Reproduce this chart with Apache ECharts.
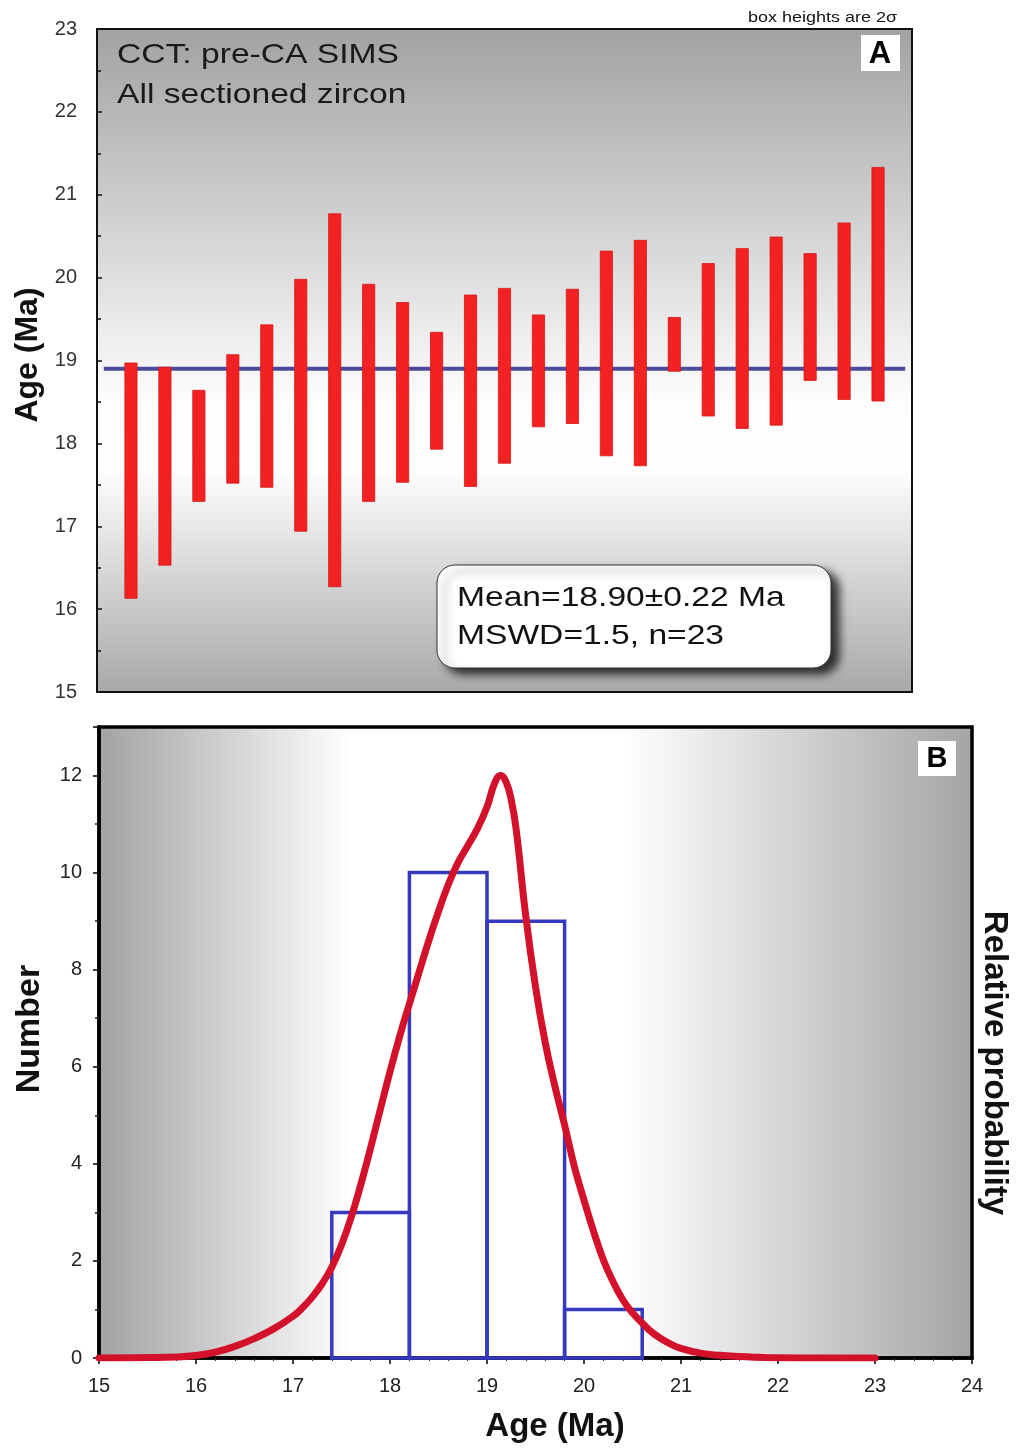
<!DOCTYPE html>
<html><head><meta charset="utf-8">
<script src="https://cdn.jsdelivr.net/npm/echarts@6/dist/echarts.min.js"></script>
<style>html,body{margin:0;padding:0;background:#fff}#c{width:1017px;height:1448px}</style>
</head><body><div id="c"></div><script>
// ---- Panel A: individual zircon ages (box heights are 2 sigma) ----
const grainIndex = [1,2,3,4,5,6,7,8,9,10,11,12,13,14,15,16,17,18,19,20,21,22,23];
const ageLow  = [16.13,16.53,17.30,17.52,17.47,16.94,16.27,17.30,17.53,17.93,17.48,17.76,18.20,18.24,17.85,17.73,18.87,18.33,18.18,18.22,18.76,18.53,18.51];
const ageHigh = [18.97,18.92,18.64,19.07,19.43,19.98,20.77,19.92,19.70,19.34,19.79,19.87,19.55,19.86,20.32,20.45,19.52,20.17,20.35,20.49,20.29,20.66,21.33];
const meanAge = 18.90;
const meanSpan = [0.2, 23.8];
const ageTicksA = [15,16,17,18,19,20,21,22,23];

// ---- Panel B: histogram + probability curve ----
const binStart = [17.4, 18.2, 19.0, 19.8];
const binEnd   = [18.2, 19.0, 19.8, 20.6];
const binCount = [3, 10, 9, 1];
const probAge   = [15.0,15.5,15.8,16.0,16.2,16.4,16.6,16.8,17.0,17.1,17.2,17.3,17.4,17.5,17.6,17.7,17.8,17.9,18.0,18.1,18.2,18.3,18.4,18.5,18.6,18.7,18.8,18.9,19.0,19.08,19.14,19.2,19.25,19.3,19.4,19.5,19.6,19.7,19.8,19.9,20.0,20.1,20.2,20.3,20.4,20.5,20.6,20.7,20.8,20.9,21.0,21.2,21.4,21.6,21.8,22.0,22.5,23.0];
const probValue = [0,0.01,0.02,0.05,0.12,0.24,0.4,0.6,0.86,1.04,1.26,1.53,1.87,2.33,2.9,3.58,4.33,5.12,5.9,6.63,7.3,7.95,8.6,9.2,9.75,10.2,10.55,10.9,11.35,11.85,12.0,11.85,11.5,10.9,9.1,7.65,6.5,5.6,4.8,3.95,3.25,2.6,2.02,1.57,1.2,0.93,0.72,0.53,0.39,0.28,0.2,0.1,0.055,0.03,0.015,0.005,0,0];

const FONT = '"Liberation Sans", Arial, sans-serif';
const chart = echarts.init(document.getElementById('c'), null, {renderer: 'canvas'});

const option = {
  backgroundColor: '#ffffff',
  animation: false,
  grid: [
    {left: 97, top: 29, width: 815, height: 663, show: true, borderColor: '#111', borderWidth: 2,
     backgroundColor: {type: 'linear', x: 0, y: 0, x2: 0, y2: 1, colorStops: [
       {offset: 0, color: '#a2a2a2'}, {offset: 0.56, color: '#fdfdfd'},
       {offset: 0.66, color: '#ffffff'}, {offset: 1, color: '#a8a8a8'}]}},
    {left: 99, top: 727, width: 873, height: 631, show: true, borderColor: '#000', borderWidth: 3.5,
     backgroundColor: {type: 'linear', x: 0, y: 0, x2: 1, y2: 0, colorStops: [
       {offset: 0, color: '#a2a2a2'}, {offset: 0.29, color: '#ffffff'},
       {offset: 0.6, color: '#ffffff'}, {offset: 1, color: '#a4a4a4'}]}}
  ],
  xAxis: [
    {gridIndex: 0, type: 'value', min: 0, max: 24, axisLine: {show: false}, axisTick: {show: false},
     axisLabel: {show: false}, splitLine: {show: false}},
    {gridIndex: 1, type: 'value', min: 15, max: 24, interval: 1,
     axisLine: {show: true, onZero: false, lineStyle: {color: '#000', width: 3.5}},
     axisTick: {show: true, inside: false, length: 6, lineStyle: {color: '#000', width: 1.5}},
     minorTick: {show: true, splitNumber: 5, length: 3, lineStyle: {color: '#333', width: 1}},
     axisLabel: {fontSize: 20, color: '#222', margin: 18, fontFamily: FONT},
     splitLine: {show: false}}
  ],
  yAxis: [
    {gridIndex: 0, type: 'value', min: 15, max: 23, interval: 1,
     axisLine: {show: true, lineStyle: {color: '#111', width: 2}},
     axisTick: {show: true, inside: true, length: 5, lineStyle: {color: '#111', width: 1.5}},
     minorTick: {show: true, splitNumber: 2, length: 4, lineStyle: {color: '#111', width: 1.5}},
     axisLabel: {fontSize: 20, color: '#333', margin: 20, fontFamily: FONT,
       formatter: v => ageTicksA.indexOf(v) >= 0 ? String(v) : ''},
     splitLine: {show: false}},
    {gridIndex: 1, type: 'value', min: 0, max: 13, interval: 2,
     axisLine: {show: true, onZero: false, lineStyle: {color: '#000', width: 3.5}},
     axisTick: {show: true, inside: false, length: 6, lineStyle: {color: '#000', width: 1.5}},
     minorTick: {show: true, splitNumber: 2, length: 4, lineStyle: {color: '#222', width: 1.5}},
     axisLabel: {fontSize: 20, color: '#222', margin: 17, fontFamily: FONT, showMaxLabel: false},
     splitLine: {show: false}}
  ],
  series: [
    {type: 'line', xAxisIndex: 0, yAxisIndex: 0, z: 2, symbol: 'none', silent: true,
     data: meanSpan.map(x => [x, meanAge]),
     lineStyle: {color: '#4b4b9d', width: 4}},
    {type: 'custom', xAxisIndex: 0, yAxisIndex: 0, z: 3,
     data: grainIndex.map((g, i) => [g, ageLow[i], ageHigh[i]]),
     encode: {x: 0, y: [1, 2]},
     renderItem: function (params, api) {
       const top = api.coord([api.value(0), api.value(2)]);
       const bot = api.coord([api.value(0), api.value(1)]);
       const w = api.size([0.36, 0])[0];
       return {type: 'rect', shape: {x: top[0] - w / 2, y: top[1], width: w, height: bot[1] - top[1]},
               style: {fill: '#f22222', stroke: '#d81818', lineWidth: 0.8}};
     }},
    {type: 'custom', xAxisIndex: 1, yAxisIndex: 1, z: 3,
     data: binStart.map((s, i) => [s, binEnd[i], binCount[i]]),
     encode: {x: [0, 1], y: 2},
     renderItem: function (params, api) {
       const p0 = api.coord([api.value(0), 0]);
       const p1 = api.coord([api.value(1), api.value(2)]);
       return {type: 'rect', shape: {x: p0[0], y: p1[1], width: p1[0] - p0[0], height: p0[1] - p1[1]},
               style: {fill: null, stroke: '#3539c0', lineWidth: 3.5}};
     }},
    {type: 'line', xAxisIndex: 1, yAxisIndex: 1, z: 4, symbol: 'none', smooth: 0.45, silent: true,
     data: probAge.map((a, i) => [a, probValue[i]]),
     lineStyle: {color: '#d3112b', width: 7, cap: 'round', join: 'round'}}
  ],
  graphic: [
    {type: 'text', left: 748, top: 10, scaleX: 1.2, z: 10,
     style: {text: 'box heights are 2σ', fontSize: 15, fontFamily: FONT, fill: '#111'}},
    {type: 'text', x: 117, y: 55, scaleX: 1.2, z: 10,
     style: {text: 'CCT: pre-CA SIMS', fontSize: 28, fontFamily: FONT, fill: '#1a1a1a', verticalAlign: 'middle'}},
    {type: 'text', x: 117, y: 95, scaleX: 1.2, z: 10,
     style: {text: 'All sectioned zircon', fontSize: 28, fontFamily: FONT, fill: '#1a1a1a', verticalAlign: 'middle'}},
    {type: 'rect', z: 10, shape: {x: 861, y: 35, width: 39, height: 36}, style: {fill: '#ffffff'}},
    {type: 'text', x: 880, y: 54, z: 11,
     style: {text: 'A', fontSize: 31, fontWeight: 'bold', fontFamily: FONT, fill: '#000', align: 'center', verticalAlign: 'middle'}},
    {type: 'rect', z: 10, shape: {x: 437, y: 565, width: 394, height: 103, r: 18},
     style: {fill: '#ffffff', stroke: '#333', lineWidth: 1, shadowBlur: 9, shadowOffsetX: 8, shadowOffsetY: 6, shadowColor: 'rgba(0,0,0,0.75)'}},
    {type: 'text', x: 457, y: 598, scaleX: 1.2, z: 11,
     style: {text: 'Mean=18.90±0.22 Ma', fontSize: 28, fontFamily: FONT, fill: '#111', verticalAlign: 'middle'}},
    {type: 'text', x: 457, y: 636, scaleX: 1.2, z: 11,
     style: {text: 'MSWD=1.5, n=23', fontSize: 28, fontFamily: FONT, fill: '#111', verticalAlign: 'middle'}},
    {type: 'text', x: 28, y: 355, rotation: Math.PI / 2, z: 10,
     style: {text: 'Age (Ma)', fontSize: 32, fontWeight: 'bold', fontFamily: FONT, fill: '#111', align: 'center', verticalAlign: 'middle'}},
    {type: 'rect', z: 10, shape: {x: 918, y: 741, width: 38, height: 35}, style: {fill: '#ffffff'}},
    {type: 'text', x: 937, y: 759, z: 11,
     style: {text: 'B', fontSize: 29, fontWeight: 'bold', fontFamily: FONT, fill: '#000', align: 'center', verticalAlign: 'middle'}},
    {type: 'text', x: 30, y: 1029, rotation: Math.PI / 2, z: 10,
     style: {text: 'Number', fontSize: 34, fontWeight: 'bold', fontFamily: FONT, fill: '#111', align: 'center', verticalAlign: 'middle'}},
    {type: 'text', x: 994, y: 1063, rotation: -Math.PI / 2, z: 10,
     style: {text: 'Relative probability', fontSize: 33, fontWeight: 'bold', fontFamily: FONT, fill: '#111', align: 'center', verticalAlign: 'middle'}},
    {type: 'text', x: 555, y: 1427, z: 10,
     style: {text: 'Age (Ma)', fontSize: 33, fontWeight: 'bold', fontFamily: FONT, fill: '#111', align: 'center', verticalAlign: 'middle'}}
  ]
};
chart.setOption(option);
</script></body></html>
